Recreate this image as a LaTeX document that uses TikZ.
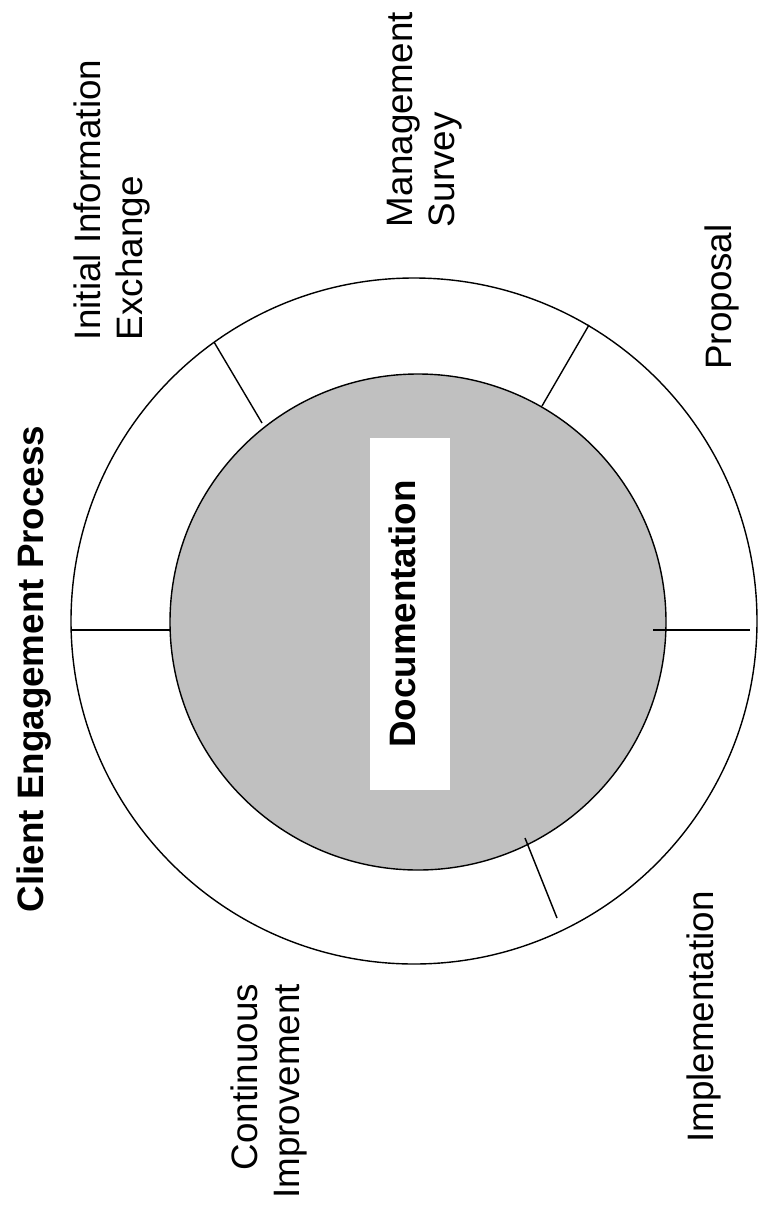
\documentclass[tikz,border=0pt]{standalone}
\usepackage{fontspec}
\setmainfont{Liberation Sans}
\definecolor{docgray}{RGB}{192,192,192}
\tikzset{
  lbl/.style={inner sep=0pt, outer sep=0pt, rotate=90, font=\fontsize{36.8}{42.3}\selectfont},
  ttl/.style={lbl, font=\fontsize{36.8}{42.3}\selectfont\bfseries},
  ring/.style={draw=black, line width=1.4pt},
  sep/.style={draw=black, line width=1.4pt},
}
\begin{document}
\begin{tikzpicture}[x=1pt, y=-1pt]
\useasboundingbox (0,0) rectangle (758,1216);
% centres
\coordinate (oc) at (414,621);
\coordinate (ic) at (418,622);
% outer and inner circles
\draw[ring, fill=white] (oc) circle[radius=343];
\draw[ring, fill=docgray] (ic) circle[radius=248];
% separators
\coordinate (l1) at (72,630);   \coordinate (l2) at (170,630);
\coordinate (r1) at (653,630);  \coordinate (r2) at (750,630);
\coordinate (a1) at (214,342);  \coordinate (a2) at (262,423);
\coordinate (b1) at (589,325);  \coordinate (b2) at (542,406);
\coordinate (c1) at (525,838);  \coordinate (c2) at (557,918);
\draw[sep] (l1) -- (l2);
\draw[sep] (r1) -- (r2);
\draw[sep] (a1) -- (a2);
\draw[sep] (b1) -- (b2);
\draw[sep] (c1) -- (c2);
% centre box
\fill[white] (370,438) rectangle (450,790);
\node[ttl, anchor=base] (doc) at (415,614) {Documentation};
% title
\node[ttl, anchor=base] (title) at (43,669) {Client Engagement Process};
% labels
\node[lbl, anchor=base west] (iie1) at (100,340) {Initial Information};
\node[lbl, anchor=base west] (iie2) at (142,340) {Exchange};
\node[lbl, anchor=base west] (ms1) at (412,227) {Management};
\node[lbl, anchor=base west] (ms2) at (454,227) {Survey};
\node[lbl, anchor=base] (prop) at (731,297) {Proposal};
\node[lbl, anchor=base] (impl) at (713,1017) {Implementation};
\node[lbl, anchor=base east] (ci1) at (257,984) {Continuous};
\node[lbl, anchor=base east] (ci2) at (299,984) {Improvement};
\end{tikzpicture}
\end{document}
